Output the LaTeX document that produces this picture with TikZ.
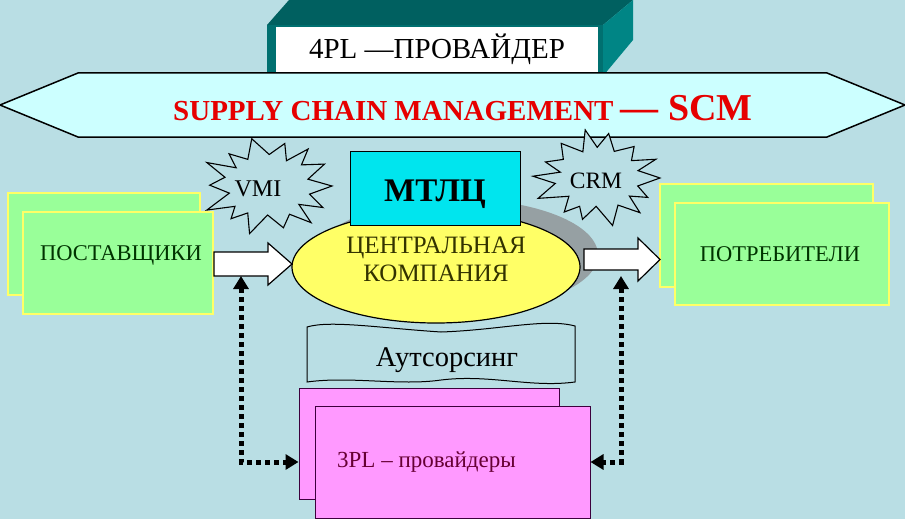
\documentclass[tikz,border=0pt]{standalone}
\usepackage{fontspec}
\setmainfont{Liberation Serif}
\usetikzlibrary{arrows.meta,calc,shapes.geometric}
\definecolor{bgc}{RGB}{185,222,228}
\definecolor{bannerc}{RGB}{204,255,255}
\definecolor{tealtop}{RGB}{0,96,96}
\definecolor{tealfront}{RGB}{0,112,112}
\definecolor{tealside}{RGB}{0,133,133}
\definecolor{cyanbox}{RGB}{0,229,238}
\definecolor{yell}{RGB}{255,255,102}
\definecolor{shadowc}{RGB}{150,160,163}
\definecolor{greenf}{RGB}{153,255,153}
\definecolor{greenb}{RGB}{255,255,102}
\definecolor{pinkf}{RGB}{255,153,255}
\definecolor{pinkb}{RGB}{60,0,60}
\definecolor{greentxt}{RGB}{0,51,0}
\definecolor{olivetxt}{RGB}{51,51,0}
\definecolor{purpletxt}{RGB}{102,0,51}
\definecolor{scmred}{RGB}{230,0,0}
\tikzset{
  gbox/.style={draw=greenb,fill=greenf,line width=2.5pt,inner sep=0pt},
  pbox/.style={draw=pinkb,fill=pinkf,line width=1pt,inner sep=0pt},
  starsty/.style={draw=black,fill=bgc,line width=1.1pt,line join=miter},
  barrow/.style={draw=black,fill=white,line width=1.2pt,line join=miter},
  dotarr/.style={line width=5pt,dash pattern=on 5pt off 4pt,{Triangle[width=15pt,length=13pt]}-{Triangle[width=15pt,length=13pt]}},
  txt/.style={inner sep=0pt,anchor=base},
}
\begin{document}
\begin{tikzpicture}[x=1pt,y=-1pt]
\useasboundingbox (0,0) rectangle (905,519);
\fill[bgc] (0,0) rectangle (905,519);

% 3D box 4PL
\fill[tealtop] (267,25) -- (289,0) -- (633,0) -- (603,25) -- cycle;
\fill[tealfront] (267,25) rectangle (604,76);
\fill[tealside] (603,25) -- (633,0) -- (633,40) -- (603,76) -- cycle;
\fill[white] (276,27) rectangle (598,76);
\node[txt,font=\fontsize{29}{33}\selectfont] (fourpl) at (437,59) {4PL —ПРОВАЙДЕР};

% banner
\draw[fill=bannerc,line width=1.5pt,line join=miter] (0,105) -- (78,73) -- (827,73) -- (905,105) -- (827,137) -- (78,137) -- cycle;
\node[inner sep=0pt,anchor=base west,text=scmred,font=\bfseries] (scm) at (173,120)
  {\fontsize{29}{33}\selectfont SUPPLY CHAIN MANAGEMENT \fontsize{38}{40}\selectfont — SCM};

% shadow of ellipse
\fill[shadowc] (458,255) ellipse [x radius=140, y radius=56];

% starbursts
\begin{scope}[shift={(268,186)}]
\draw[starsty] (0:64 and 46) foreach \i in {1,...,27}{ -- ({\i*360/28+3*sin(\i*53)}:{ifthenelse(isodd(\i),0.66+0.04*cos(\i*71),1+0.09*sin(\i*97))*64} and {ifthenelse(isodd(\i),0.66+0.04*cos(\i*71),1+0.09*sin(\i*97))*46}) } -- cycle;
\end{scope}
\node[txt,font=\fontsize{24}{28}\selectfont] (vmi) at (258,196) {VMI};
\begin{scope}[shift={(598,178)}]
\draw[starsty] (0:62 and 45) foreach \i in {1,...,27}{ -- ({\i*360/28+3*sin(\i*61)}:{ifthenelse(isodd(\i),0.66+0.04*cos(\i*83),1+0.09*sin(\i*131))*62} and {ifthenelse(isodd(\i),0.66+0.04*cos(\i*83),1+0.09*sin(\i*131))*45}) } -- cycle;
\end{scope}
\node[txt,font=\fontsize{23.5}{28}\selectfont] (crm) at (596,188) {CRM};

% outsourcing wave
\draw[fill=bgc,line width=1pt] (307,327) .. controls (330,320) and (380,328) .. (441,332)
  .. controls (500,330) and (545,318) .. (575,326) -- (575,382)
  .. controls (530,388) and (490,374) .. (441,380)
  .. controls (400,386) and (350,376) .. (307,382) -- cycle;
\node[txt,font=\fontsize{28.5}{32}\selectfont] (outs) at (447,366) {Аутсорсинг};

% central company
\node[ellipse,draw=black,fill=yell,line width=1.2pt,minimum width=288pt,minimum height=112pt,inner sep=0pt] (cc) at (436,267) {};
\node[txt,text=olivetxt,font=\fontsize{25}{29}\selectfont] (cc1) at (436,253) {ЦЕНТРАЛЬНАЯ};
\node[txt,text=olivetxt,font=\fontsize{25}{29}\selectfont] (cc2) at (436,281) {КОМПАНИЯ};

% MTLC
\node[draw=black,fill=cyanbox,line width=1pt,minimum width=170pt,minimum height=74pt,inner sep=0pt] (mtlc) at (435,188) {};
\node[txt,font=\bfseries\fontsize{33}{36}\selectfont] (mtlct) at (435,201) {МТЛЦ};

% suppliers
\node[gbox,minimum width=192pt,minimum height=102pt] (supb) at (104,244) {};
\node[gbox,minimum width=190pt,minimum height=102pt] (supf) at (118,263) {};
\node[txt,text=greentxt,font=\fontsize{22.5}{27}\selectfont] (supt) at (121,260) {ПОСТАВЩИКИ};

% consumers
\node[gbox,minimum width=213pt,minimum height=103pt] (potb) at (766.5,235.5) {};
\node[gbox,minimum width=214pt,minimum height=102pt] (potf) at (782,254) {};
\node[txt,text=greentxt,font=\fontsize{22.5}{27}\selectfont] (pott) at (780,261) {ПОТРЕБИТЕЛИ};

% block arrows
\draw[barrow] (214,252) -- (268,252) -- (268,243) -- (292,264) -- (268,285) -- (268,276) -- (214,276) -- cycle;
\draw[barrow] (584,249) -- (638,249) -- (638,238) -- (660,259.5) -- (638,281) -- (638,270) -- (584,270) -- cycle;

% 3PL
\node[pbox,minimum width=260pt,minimum height=111pt] (plb) at (429,443.5) {};
\node[pbox,minimum width=275pt,minimum height=112pt] (plf) at (452.5,462) {};
\node[inner sep=0pt,anchor=base west,text=purpletxt,font=\fontsize{23}{27}\selectfont] (plt) at (337,467) {3PL – провайдеры};

% dotted arrows
\coordinate (lu) at (241,276);
\coordinate (ru) at (621,276);
\draw[dotarr] (lu) |- ($(plb.west)+(0,18.5)$);
\draw[dotarr] (ru) |- (plf.east);
\end{tikzpicture}
\end{document}
